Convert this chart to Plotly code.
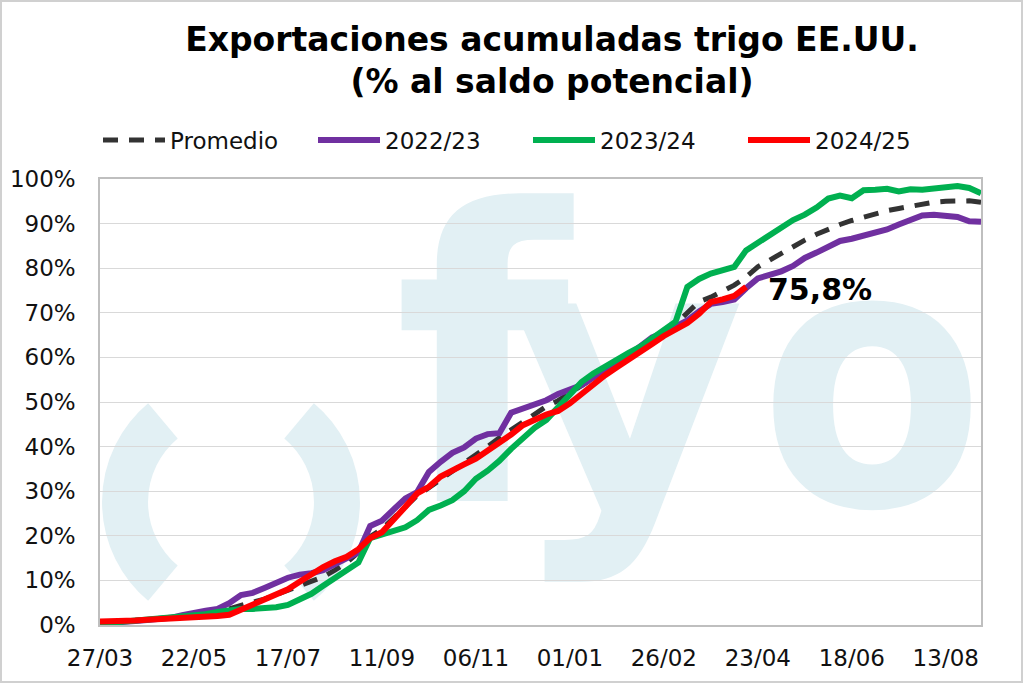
import base64
import plotly.graph_objects as go

# semanas (eje categórico, una marca cada 8 semanas)
weeks = [
    "27/03", "03/04", "10/04", "17/04", "24/04", "01/05", "08/05", "15/05",
    "22/05", "29/05", "05/06", "12/06", "19/06", "26/06", "03/07", "10/07",
    "17/07", "24/07", "31/07", "07/08", "14/08", "21/08", "28/08", "04/09",
    "11/09", "18/09", "25/09", "02/10", "09/10", "16/10", "23/10", "30/10",
    "06/11", "13/11", "20/11", "27/11", "04/12", "11/12", "18/12", "25/12",
    "01/01", "08/01", "15/01", "22/01", "29/01", "05/02", "12/02", "19/02",
    "26/02", "05/03", "12/03", "19/03", "26/03", "02/04", "09/04", "16/04",
    "23/04", "30/04", "07/05", "14/05", "21/05", "28/05", "04/06", "11/06",
    "18/06", "25/06", "02/07", "09/07", "16/07", "23/07", "30/07", "06/08",
    "13/08", "20/08", "27/08", "03/09",
]

promedio = [
    0.6, 0.7, 0.8, 1.0, 1.2, 1.4, 1.6, 1.8, 2.2, 2.6, 3.0, 3.6, 4.4, 5.0, 5.8, 6.8,
    7.8, 8.9, 10.0, 10.8, 12.3, 14.0, 16.3, 19.8, 21.5, 24.0, 26.5, 29.0, 30.8, 32.6,
    34.5, 36.3, 38.1, 40.0, 42.0, 43.8, 45.5, 47.3, 49.0, 50.3, 52.0, 53.6, 55.3, 57.0,
    58.6, 60.3, 62.0, 63.8, 65.6, 67.5, 70.0, 72.5, 73.5, 74.8, 76.2, 78.0, 80.3, 81.8,
    83.3, 85.0, 86.3, 87.6, 88.8, 89.8, 90.7, 91.5, 92.2, 92.9, 93.4, 93.9, 94.4, 94.8,
    95.0, 95.1, 95.1, 94.8,
]

c2022 = [
    0.3, 0.4, 0.6, 0.9, 1.1, 1.3, 1.6, 2.2, 2.8, 3.2, 3.6, 4.9, 6.7, 7.2, 8.3, 9.5,
    10.6, 11.3, 11.6, 12.3, 13.6, 14.8, 16.3, 22.2, 23.4, 25.9, 28.4, 29.8, 34.3, 36.6,
    38.6, 39.8, 41.8, 42.8, 43.0, 47.6, 48.5, 49.6, 50.4, 51.8, 52.8, 53.8, 55.5, 57.0,
    58.8, 60.5, 62.5, 64.5, 65.5, 66.8, 68.3, 70.3, 72.0, 72.4, 73.0, 75.5, 77.7, 78.5,
    79.3, 80.5, 82.3, 83.5, 84.8, 86.1, 86.6, 87.2, 88.0, 88.7, 89.8, 90.7, 91.8, 92.0,
    91.8, 91.5, 90.5, 90.4,
]

c2023 = [
    0.3, 0.5, 0.7, 0.9, 1.1, 1.3, 1.5, 1.7, 2.0, 2.4, 2.9, 3.4, 3.6, 3.6, 3.7, 4.0,
    4.5, 5.8, 7.0, 8.8, 10.5, 12.0, 14.0, 19.5, 20.3, 21.0, 21.9, 23.5, 25.8, 26.8,
    28.0, 30.0, 32.8, 34.6, 36.8, 39.5, 41.8, 44.2, 46.0, 49.0, 51.8, 54.5, 56.4, 58.0,
    59.6, 61.0, 62.4, 64.2, 66.2, 68.0, 75.8, 77.6, 78.8, 79.5, 80.3, 84.0, 85.8, 87.3,
    89.0, 90.8, 92.0, 93.6, 95.6, 96.3, 95.7, 97.5, 97.6, 97.8, 97.2, 97.7, 97.6, 97.9,
    98.3, 98.4, 98.0, 96.8,
]

c2024 = [
    0.8, 0.8, 0.8, 1.0, 1.2, 1.3, 1.4, 1.6, 1.8, 1.9, 2.0, 2.3, 3.5, 4.7, 5.9, 7.0,
    8.0, 9.7, 11.5, 13.0, 14.3, 15.3, 17.0, 19.5, 20.8, 23.5, 26.5, 29.5, 31.0, 33.3,
    34.8, 36.0, 37.3, 39.0, 41.0, 42.7, 44.8, 46.0, 47.2, 48.0, 49.7, 51.8, 54.0, 56.0,
    57.8, 59.5, 61.0, 63.0, 64.8, 66.2, 67.7, 69.8, 72.4, 73.0, 73.8, 75.8,
]

FONT = "DejaVu Sans, Verdana, sans-serif"

# marca de agua "( ) fyo" como svg, debajo de la grilla
wm_color = "#E2F0F4"
wm_svg = f"""<svg xmlns='http://www.w3.org/2000/svg' width='881' height='446' viewBox='0 0 881 446'>
<g fill='none' stroke='{wm_color}' stroke-width='46'>
<path d='M 62.9 241.8 A 106 106 0 0 0 62.9 404.2'/>
<path d='M 199.1 241.8 A 106 106 0 0 1 199.1 404.2'/>
</g>
<g fill='{wm_color}' font-family='DejaVu Sans' font-weight='bold' text-anchor='middle'>
<text x='382' y='322' font-size='405'>f</text>
<text x='527' y='324' font-size='365'>y</text>
<text transform='translate(772,326) scale(0.9,1)' x='0' y='0' font-size='365'>o</text>
</g>
</svg>"""
wm_uri = "data:image/svg+xml;base64," + base64.b64encode(wm_svg.encode()).decode()

fig = go.Figure()

fig.add_trace(go.Scatter(x=weeks, y=promedio, name="Promedio", mode="lines",
                         line=dict(color="#333333", width=5, dash="15px,11px")))
fig.add_trace(go.Scatter(x=weeks, y=c2022, name="2022/23", mode="lines",
                         line=dict(color="#7030A0", width=6)))
fig.add_trace(go.Scatter(x=weeks, y=c2023, name="2023/24", mode="lines",
                         line=dict(color="#00B050", width=6)))
fig.add_trace(go.Scatter(x=weeks[:len(c2024)], y=c2024, name="2024/25", mode="lines",
                         line=dict(color="#FF0000", width=6)))

last_label = f"{c2024[-1]:.1f}%".replace(".", ",")
fig.add_annotation(x=weeks[len(c2024) - 1], y=c2024[-1], text=f"<b>{last_label}</b>",
                   showarrow=False, xanchor="left", yanchor="middle",
                   xshift=20, yshift=-3, font=dict(family=FONT, size=30, color="black"))

fig.add_layout_image(source=wm_uri, xref="paper", yref="paper", x=0, y=1,
                     sizex=1, sizey=1, xanchor="left", yanchor="top",
                     sizing="stretch", layer="below")

# marco gris alrededor de todo el gráfico
fig.add_shape(type="rect", xref="paper", yref="paper",
              x0=-99 / 881, x1=922 / 881, y0=-57 / 446, y1=178 / 446 + 1,
              line=dict(color="#D0D0D0", width=2), fillcolor="rgba(0,0,0,0)")

fig.update_layout(
    width=1024, height=683,
    margin=dict(l=100, r=43, t=179, b=58, autoexpand=False),
    paper_bgcolor="white",
    plot_bgcolor="rgba(0,0,0,0)",
    font=dict(family=FONT, size=23, color="#111111"),
    title=dict(
        text="<b>Exportaciones acumuladas trigo EE.UU.<br>(% al saldo potencial)</b>",
        x=552 / 1024, xanchor="center", xref="container",
        y=0.926, yanchor="top", yref="container",
        font=dict(family=FONT, size=33, color="black"),
    ),
    legend=dict(
        orientation="h", xref="container", x=98 / 1024, xanchor="left",
        yref="container", y=1 - 140 / 683, yanchor="middle",
        font=dict(family=FONT, size=23, color="#111111"),
        itemwidth=62, entrywidth=138, entrywidthmode="pixels",
        bgcolor="rgba(0,0,0,0)",
    ),
    showlegend=True,
)

fig.update_xaxes(
    type="category", range=[0, len(weeks) - 1],
    tickvals=weeks[::8], ticktext=weeks[::8], tickangle=0,
    showgrid=False, showline=True, linecolor="#BFBFBF", linewidth=1.5, mirror=True,
    ticks="", ticklabelstandoff=12, tickfont=dict(size=23),
)
fig.update_yaxes(
    range=[0, 100], dtick=10, ticksuffix="%",
    showgrid=True, gridcolor="#D9D9D9", gridwidth=1.2,
    showline=True, linecolor="#BFBFBF", linewidth=1.5, mirror=True,
    ticks="", ticklabelstandoff=18, zeroline=False, tickfont=dict(size=23),
)

# sin margen del body para que el gráfico quede en (0, 0)
fig.write_html("out.html", config={"displayModeBar": False},
               post_script="document.body.style.margin='0px';")
